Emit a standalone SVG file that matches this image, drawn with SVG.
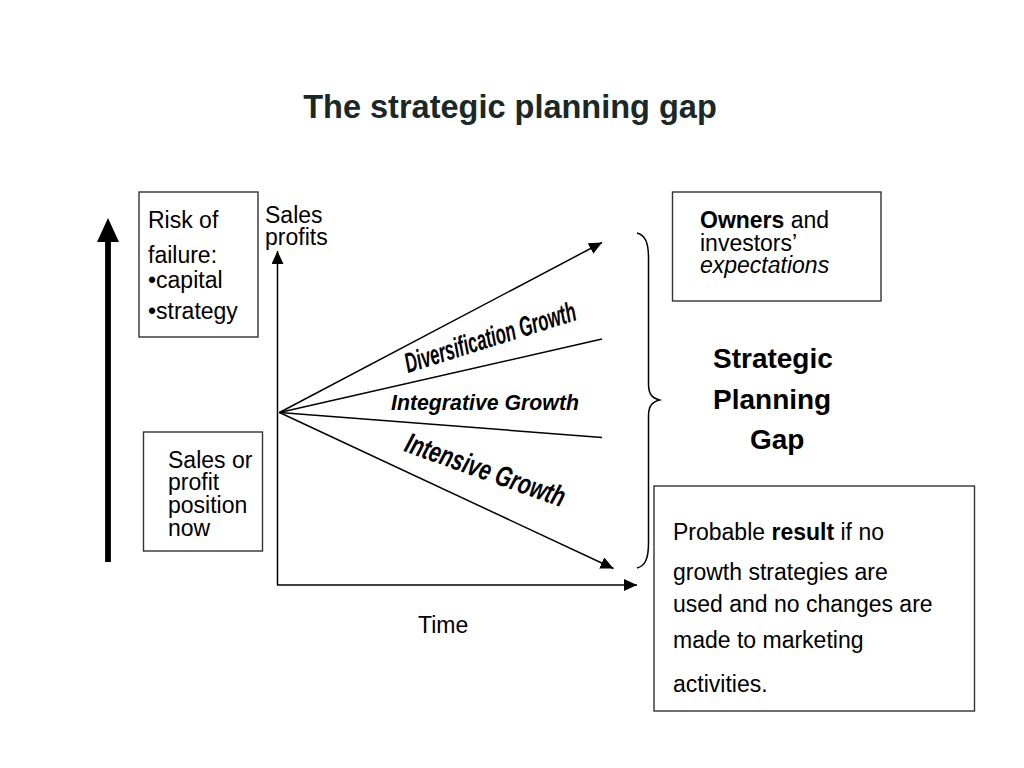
<svg xmlns="http://www.w3.org/2000/svg" width="1024" height="768" viewBox="0 0 1024 768">
<style>
  text { font-family: "Liberation Sans", Arial, sans-serif; fill: #000; }
  .t { font-size: 23px; }
  .title { font-size: 32.5px; font-weight: bold; fill: #1a2828; }
  .gap { font-size: 28px; font-weight: bold; }
  .growth { font-weight: bold; font-style: italic; }
  .box { fill: #fff; stroke: #333; stroke-width: 1.4; }
  .ln { stroke: #000; stroke-width: 1.5; fill: none; }
</style>
<defs>
  <marker id="ah" markerUnits="userSpaceOnUse" markerWidth="14" markerHeight="12" refX="13" refY="6" orient="auto">
    <path d="M0,0 L13,6 L0,12 z" fill="#000"/>
  </marker>
</defs>
<rect width="1024" height="768" fill="#fff"/>

<text class="title" x="510" y="118" text-anchor="middle">The strategic planning gap</text>

<g id="risk-arrow">
  <line x1="108" y1="562" x2="108" y2="238" stroke="#000" stroke-width="5.8"/>
  <path d="M108,218 L119,242 L97,242 z" fill="#000"/>
</g>

<g id="risk-box">
  <rect class="box" x="139" y="192" width="119" height="145"/>
  <text class="t" x="148" y="228">Risk of</text>
  <text class="t" x="148" y="263">failure:</text>
  <text class="t" x="148" y="288">•capital</text>
  <text class="t" x="148" y="319">•strategy</text>
</g>

<g id="position-box">
  <rect class="box" x="143.5" y="432" width="119" height="119"/>
  <text class="t" x="168" y="468">Sales or</text>
  <text class="t" x="168" y="490">profit</text>
  <text class="t" x="168" y="513">position</text>
  <text class="t" x="168" y="536">now</text>
</g>

<g id="axes">
  <line class="ln" x1="277.5" y1="585" x2="277.5" y2="251" marker-end="url(#ah)"/>
  <line class="ln" x1="277" y1="585" x2="637" y2="585" marker-end="url(#ah)"/>
  <text class="t" x="265" y="223">Sales</text>
  <text class="t" x="265" y="245">profits</text>
  <text class="t" x="418" y="633">Time</text>
</g>

<g id="connectors">
  <line class="ln" x1="279.5" y1="412.5" x2="602" y2="242.5" marker-end="url(#ah)"/>
  <line class="ln" x1="279.5" y1="412.5" x2="602" y2="339"/>
  <line class="ln" x1="279.5" y1="412.5" x2="602" y2="437.5"/>
  <line class="ln" x1="279.5" y1="412.5" x2="613.5" y2="568.5" marker-end="url(#ah)"/>
</g>

<g id="growth-labels">
  <text class="growth" font-size="28" transform="translate(408,373) rotate(-17.4)" textLength="178" lengthAdjust="spacingAndGlyphs">Diversification Growth</text>
  <text class="growth" font-size="22" x="391" y="410" textLength="188" lengthAdjust="spacingAndGlyphs">Integrative Growth</text>
  <text class="growth" font-size="29" transform="translate(403,451) rotate(19.6)" textLength="168" lengthAdjust="spacingAndGlyphs">Intensive Growth</text>
</g>

<g id="brace">
  <path class="ln" d="M637,233 C645,235 648.5,242 648.5,258 L648.5,384 C648.5,394 652,398 659.5,400 C652,402 648.5,406 648.5,416 L648.5,543 C648.5,559 645,566 637,568"/>
</g>

<g id="owners-box">
  <rect class="box" x="672.5" y="192" width="208.5" height="109"/>
  <text class="t" x="700" y="228"><tspan font-weight="bold">Owners</tspan> and</text>
  <text class="t" x="700" y="250.5">investors’</text>
  <text class="t" x="700" y="272.5" font-style="italic">expectations</text>
</g>

<g id="gap-label">
  <text class="gap" x="713" y="368">Strategic</text>
  <text class="gap" x="713" y="409">Planning</text>
  <text class="gap" x="750" y="449">Gap</text>
</g>

<g id="result-box">
  <rect class="box" x="654" y="486" width="320.5" height="225"/>
  <text class="t" x="673" y="540">Probable <tspan font-weight="bold">result</tspan> if no</text>
  <text class="t" x="673" y="580">growth strategies are</text>
  <text class="t" x="673" y="612">used and no changes are</text>
  <text class="t" x="673" y="648">made to marketing</text>
  <text class="t" x="673" y="692">activities.</text>
</g>
</svg>
